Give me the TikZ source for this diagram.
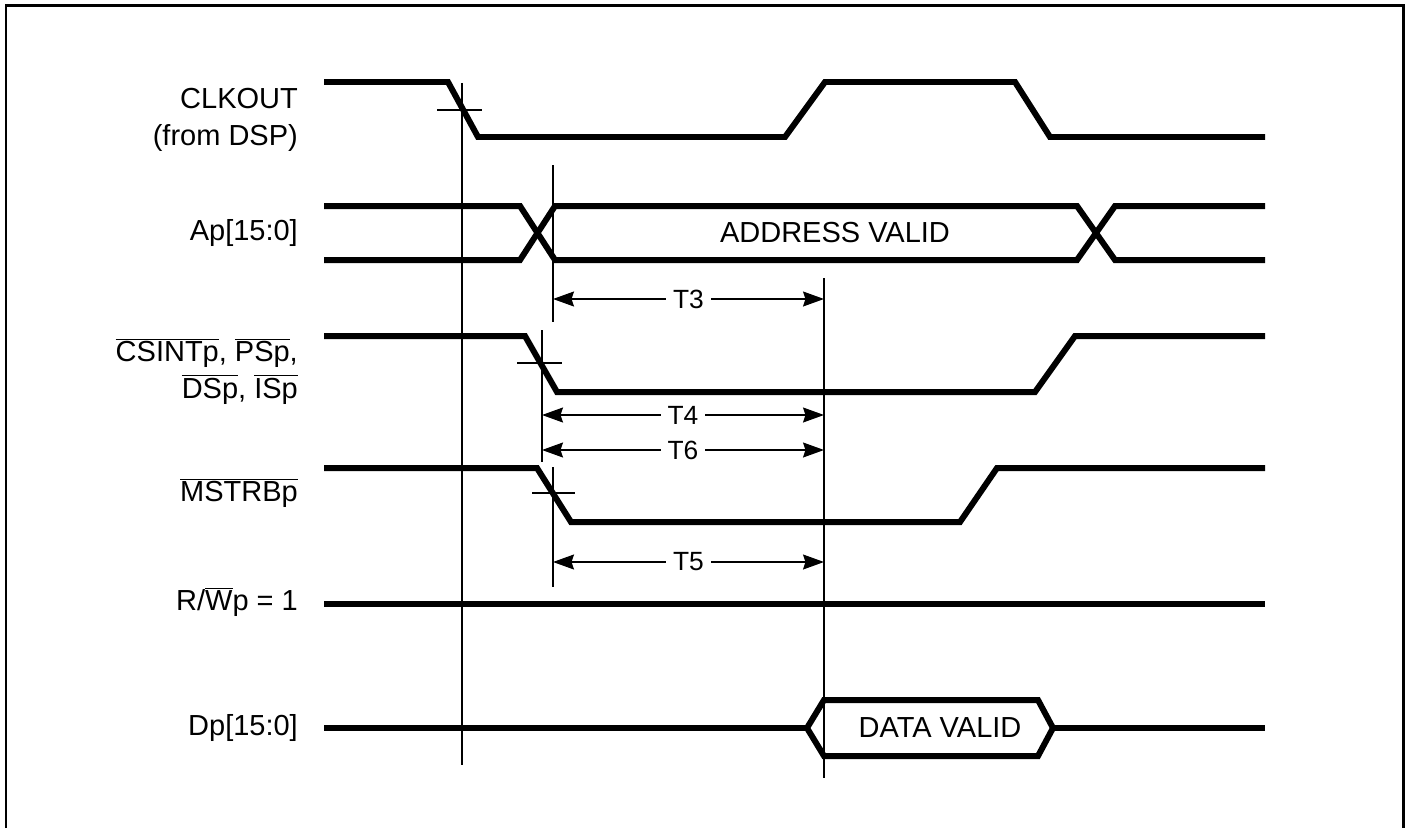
\documentclass[tikz,border=0pt]{standalone}
\usepackage{fontspec}
\setmainfont{Liberation Sans}
\usetikzlibrary{arrows.meta}
\newcommand{\ovl}[1]{$\overline{\mbox{#1}}$}
\begin{document}
\begin{tikzpicture}[x=0.02cm, y=-0.02cm,
		signal/.style={line width=0.12cm, line join=miter},
		guide/.style={line width=0.03cm},
		span/.style={guide, {Stealth[length=0.42cm,width=0.3cm,inset=0.05cm]}-{Stealth[length=0.42cm,width=0.3cm,inset=0.05cm]}},
		siglabel/.style={anchor=east, align=right, font=\fontsize{16.5}{20.8}\selectfont},
		spanlabel/.style={fill=white, inner xsep=0.14cm, inner ysep=0pt, font=\fontsize{15}{18}\selectfont}]
	
	\useasboundingbox (0,0) rectangle (1409,828);
	
	% ==================== frame ====================
	\draw[line width=0.06cm] (6,828) -- (6,6) -- (1403,6) -- (1403,828);
	
	% ==================== signal names ====================
	\node[siglabel] (nclk) at (304,120) {CLKOUT\\(from DSP)};
	\node[siglabel] (nap) at (304,233) {Ap[15:0]};
	\node[siglabel] (ncs) at (304,371) {\ovl{CSINTp}, \ovl{PSp},\\\ovl{DSp}, \ovl{ISp}};
	\node[siglabel] (nms) at (304,493) {\ovl{MSTRBp}};
	\node[siglabel] (nrw) at (304,602) {R/\ovl{W}p = 1};
	\node[siglabel] (ndp) at (304,728) {Dp[15:0]};
	
	% ==================== reference lines ====================
	\draw[guide] (462,83) -- (462,765);
	\draw[guide] (553,165) -- (553,322);
	\draw[guide] (542,330) -- (542,462);
	\draw[guide] (553,467) -- (553,587);
	\draw[guide] (824,278) -- (824,778);
	% edge ticks
	\draw[guide] (437,110) -- (482,110);
	\draw[guide] (517,363) -- (562,363);
	\draw[guide] (532,493) -- (575,493);
	
	% ==================== waveforms ====================
	% CLKOUT
	\draw[signal] (324,82) -- (448,82) -- (478,137) -- (785,137) -- (825,82)
		-- (1015,82) -- (1050,137) -- (1265,137);
	% Ap[15:0]
	\draw[signal] (324,206) -- (520,206) -- (555,260) -- (1077,260) -- (1115,206) -- (1265,206);
	\draw[signal] (324,260) -- (520,260) -- (555,206) -- (1077,206) -- (1115,260) -- (1265,260);
	\node (addr) at (835,233) {\fontsize{16.5}{20}\selectfont ADDRESS VALID};
	% CSINTp, PSp, DSp, ISp
	\draw[signal] (324,336) -- (525,336) -- (557,392) -- (1035,392) -- (1075,336) -- (1265,336);
	% MSTRBp
	\draw[signal] (324,468) -- (537,468) -- (571,522) -- (960,522) -- (997,468) -- (1265,468);
	% R/Wp
	\draw[signal] (324,604) -- (1265,604);
	% Dp[15:0]
	\draw[signal] (324,728) -- (807,728);
	\draw[signal] (807,728) -- (824,700) -- (1038,700) -- (1053,728) -- (1038,756) -- (824,756) -- cycle;
	\draw[signal] (1053,728) -- (1265,728);
	\node (data) at (940,728) {\fontsize{16.5}{20}\selectfont DATA VALID};
	
	% ==================== timing spans ====================
	\coordinate (a3) at (553,299);  \coordinate (b3) at (824,299);
	\coordinate (a4) at (542,415);  \coordinate (b4) at (824,415);
	\coordinate (a6) at (542,450);  \coordinate (b6) at (824,450);
	\coordinate (a5) at (553,562);  \coordinate (b5) at (824,562);
	\draw[span] (a3) -- node[spanlabel] {T3} (b3);
	\draw[span] (a4) -- node[spanlabel] {T4} (b4);
	\draw[span] (a6) -- node[spanlabel] {T6} (b6);
	\draw[span] (a5) -- node[spanlabel] {T5} (b5);
	
\end{tikzpicture}
\end{document}
